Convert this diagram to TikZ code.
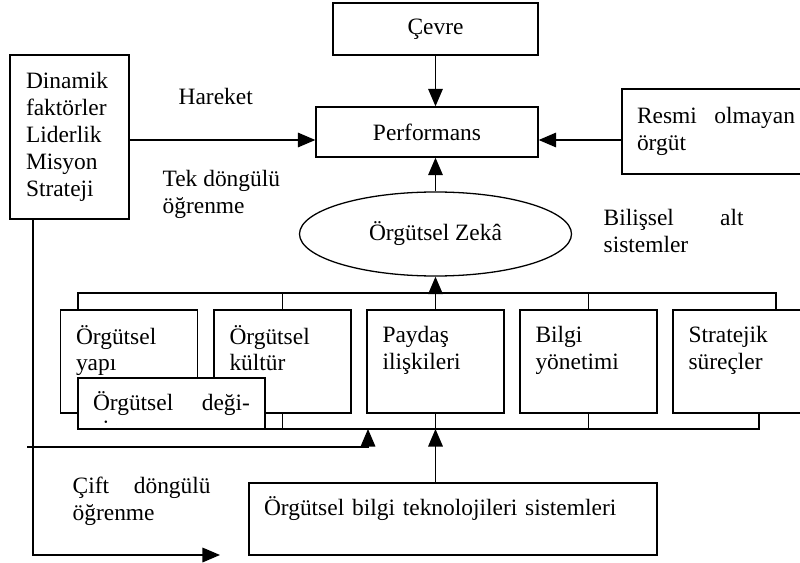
\documentclass[tikz,border=0pt]{standalone}
\usepackage{fontspec}
\setmainfont{Liberation Serif}
\usetikzlibrary{positioning,arrows.meta,calc,shapes.geometric}
\newdimen\px \px=0.03cm

\begin{document}
\begin{tikzpicture}[x=0.03cm,y=-0.03cm,line width=1.1pt,font=\fontsize{20}{23}\selectfont]

  \tikzset{
    kutu/.style={draw,fill=white,inner sep=0pt,align=left},
    altkutu/.style={kutu,minimum width=137\px,minimum height=103\px,text width=106\px},
    yazi/.style={inner sep=0pt,align=left,anchor=west},
    ok/.style={-{Triangle[length=15pt,width=12.5pt]}},
  }

   \useasboundingbox (0,0) rectangle (800,563);
   \clip (0,0) rectangle (800,563);

   % TOP
   \node[kutu,minimum width=205\px,minimum height=52\px] (cevre) at (435.5,29) {Çevre};
   \node[kutu,minimum width=222\px,minimum height=50\px] (perf) at (427,132) {Performans};
   \node[kutu,minimum width=119\px,minimum height=164\px,text width=87\px] (dinamik) at (69.5,137)
     {Dinamik\\faktörler\\Liderlik\\Misyon\\Strateji};
   \node[kutu,minimum width=188\px,minimum height=85\px,text width=158\px] (resmi) at (716,131.5)
     {Resmi\hfill olmayan\\örgüt};
   \node[kutu,ellipse,minimum width=272\px,minimum height=84\px] (zeka) at (435.5,234) {Örgütsel Zekâ};

   \coordinate (giris) at ($(perf.west)+(0,8)$);
   \draw[ok] (cevre.south) -- (cevre.south |- perf.north);
   \draw[ok] (dinamik.east |- giris) -- (giris);
   \draw[ok] (resmi.west |- giris) -- (giris -| perf.east);
   \draw[ok] (zeka.north) -- (zeka.north |- perf.south);

   \node[yazi] (hareket) at (178,96) {Hareket};
   \node[yazi] (tek) at (162,194) {Tek döngülü\\öğrenme};
   \node[yazi,text width=140\px] (bilissel) at (603,231) {Bilişsel\hfill alt\\sistemler};

   % SUBSYSTEMS
   \node[altkutu] (yapi) at (129,361.5) {Örgütsel\\yapı\\\mbox{}};
   \node[altkutu] (kultur) at (282.5,361.5) {Örgütsel\\kültür\\\mbox{}};
   \node[altkutu] (paydas) at (435.5,361.5) {Paydaş\\ilişkileri\\\mbox{}};
   \node[altkutu] (bilgi) at (588.5,361.5) {Bilgi\\yönetimi\\\mbox{}};
   \node[altkutu] (surec) at (741.5,361.5) {Stratejik\\süreçler\\\mbox{}};

   \coordinate (ust1) at (78,293);
   \coordinate (ust5) at (776,293);
   \draw (ust1 |- yapi.north) -- (ust1) -- (ust5) -- (ust5 |- surec.north);
   \draw (kultur.north) -- (kultur.north |- ust1);
   \draw (bilgi.north) -- (bilgi.north |- ust1);
   \draw[ok] (paydas.north) -- (paydas.north |- zeka.south);

   \coordinate (alt1) at (78,429);
   \coordinate (alt5) at (759,429);
   \draw (alt1) -- (alt5) -- (alt5 |- surec.south);
   \draw (kultur.south) -- (kultur.south |- alt1);
   \draw (paydas.south) -- (paydas.south |- alt1);
   \draw (bilgi.south) -- (bilgi.south |- alt1);

   \node[kutu,minimum width=187\px,minimum height=51\px,text width=157\px] (degisim) at (171.5,403.5)
     {Örgütsel\hfill deği-};
   \begin{scope}
     \clip (80,380) rectangle (263,424);
     \node[yazi,anchor=base west] (sim) at (93,436) {şim};
   \end{scope}

   % BOTTOM
   \node[kutu,minimum width=408\px,minimum height=72\px,text width=378\px] (bts) at (453,519)
     {Örgütsel bilgi teknolojileri sistemleri\\\mbox{}};
   \draw[ok] (paydas.south |- bts.north) -- (paydas.south |- alt1);

   \coordinate (cift1) at (27,447);
   \coordinate (cift2) at (368,447);
   \draw[ok] (cift1) -- (cift2) -- (cift2 |- alt1);

   \coordinate (dongu) at (33,555);
   \coordinate (donguson) at (220,555);
   \draw[ok] (dinamik.south -| dongu) -- (dongu) -- (donguson);

   \node[yazi,text width=138\px] (cift) at (72,501) {Çift\hfill döngülü\\öğrenme};

\end{tikzpicture}
\end{document}
